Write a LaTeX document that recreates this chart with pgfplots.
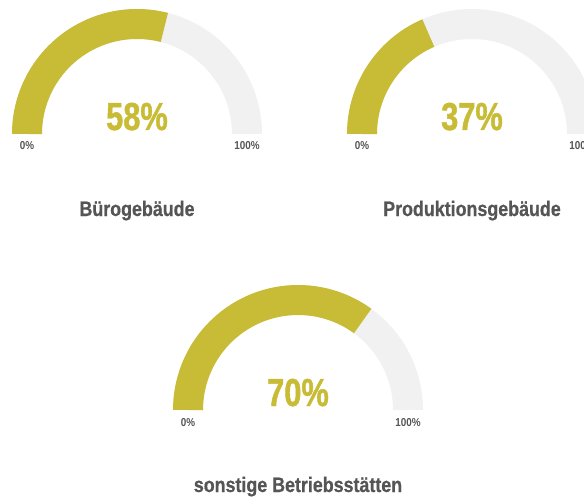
\documentclass[border=0pt]{standalone}
\usepackage{fontspec}
\setmainfont{Liberation Sans}[FakeStretch=0.86]
\newfontfamily\valfont{Liberation Sans}[FakeStretch=0.79, BoldFeatures={FakeBold=1.2}]
\newfontfamily\ttlfont{Liberation Sans}[FakeStretch=0.85, BoldFeatures={FakeBold=0.6}]
\usepackage{pgfplots}
\pgfplotsset{compat=1.18}
\definecolor{golive}{HTML}{C8BC37}
\definecolor{ggray}{HTML}{F1F1F1}
\definecolor{gtext}{HTML}{555555}
\pgfplotsset{gaugeaxis/.style={anchor=south west, x=1pt, y=1pt, xmin=-125, xmax=125, ymin=0, ymax=125, hide axis, clip=false}}
% value, title
\newcommand\gauge[2]{%
  \addplot[draw=ggray, line width=30pt, data cs=polar, domain=0:180, samples=120] ({x},{110});
  \addplot[draw=golive, line width=30pt, data cs=polar, domain={180-1.8*#1}:180, samples=120] ({x},{110});
  \node[anchor=base, text=golive, font=\valfont\bfseries\fontsize{39}{39}\selectfont] at (axis cs:0,4) {#1\%};
  \node[anchor=base, text=gtext, font=\bfseries\fontsize{11.5}{11.5}\selectfont] at (axis cs:-110,-16) {0\%};
  \node[anchor=base, text=gtext, font=\bfseries\fontsize{11.5}{11.5}\selectfont] at (axis cs:110,-16) {100\%};
  \node[anchor=base, text=gtext, font=\ttlfont\bfseries\fontsize{21}{21}\selectfont] at (axis cs:0,-82) {#2};
}
\begin{document}
\begin{tikzpicture}
\useasboundingbox (0,0) rectangle (584pt,-497pt);
\clip (0,0) rectangle (584pt,-497pt);
\begin{axis}[gaugeaxis, at={(12pt,-134pt)}]
\gauge{58}{Bürogebäude}
\end{axis}
\begin{axis}[gaugeaxis, at={(347pt,-134pt)}]
\gauge{37}{Produktionsgebäude}
\end{axis}
\begin{axis}[gaugeaxis, at={(173pt,-410pt)}]
\gauge{70}{sonstige Betriebsstätten}
\end{axis}
\end{tikzpicture}
\end{document}
